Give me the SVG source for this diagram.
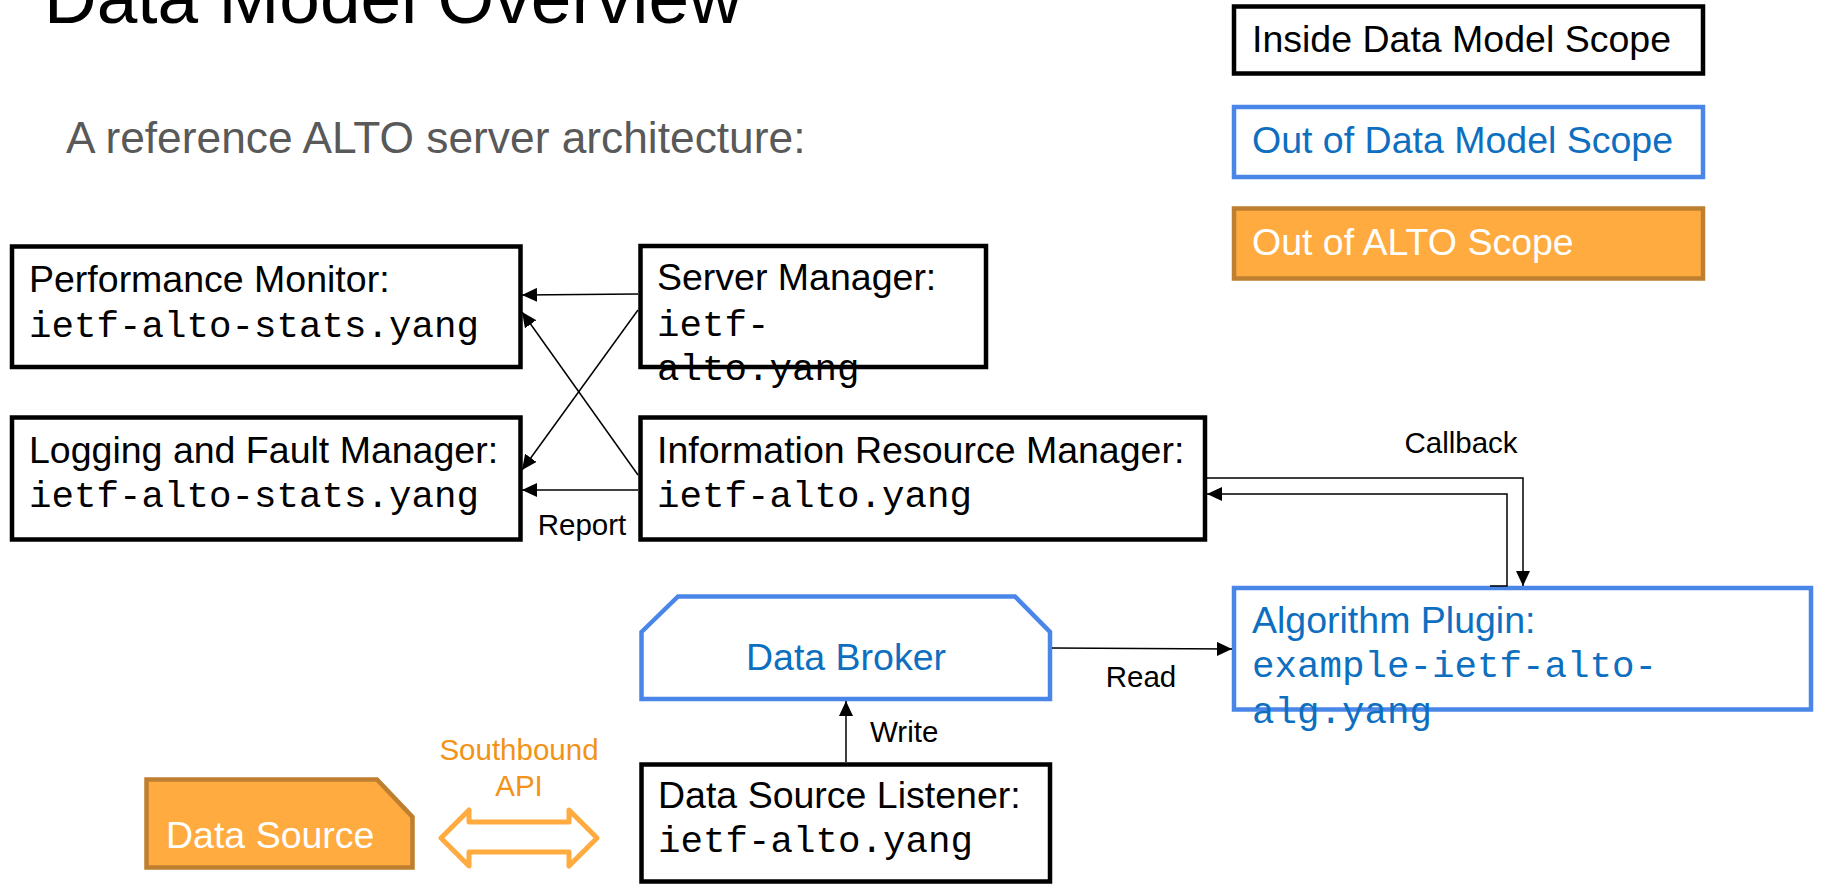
<svg xmlns="http://www.w3.org/2000/svg" width="1822" height="884" viewBox="0 0 1822 884">
<style>
.sans{font-family:"Liberation Sans",Arial,sans-serif}
.mono{font-family:"Liberation Mono","Courier New",monospace}
.main{font-size:37.5px;fill:#000}
.small{font-size:29.5px;fill:#000}
.blk{fill:#fff;stroke:#000;stroke-width:4.5}
.blu{fill:#fff;stroke:#4a86e8;stroke-width:4.5}
.org{fill:#ffab40;stroke:#bf7f30;stroke-width:4.5}
.btxt{fill:#0e6fc0}
.wtxt{fill:#fff}
.otxt{fill:#f29318}
.conn{fill:none;stroke:#000;stroke-width:1.5}
</style>
<defs>
<marker id="ah" markerUnits="userSpaceOnUse" markerWidth="15" markerHeight="14" refX="15" refY="7" orient="auto">
<path d="M0,0 L15,7 L0,14 z" fill="#000"/>
</marker>
</defs>
<rect width="1822" height="884" fill="#fff"/>
<text class="sans" x="44" y="23" font-size="73" fill="#000">Data Model Overview</text>
<text class="sans" x="66" y="153" font-size="44.3" fill="#595959">A reference ALTO server architecture:</text>

<g id="legend-inside">
<rect class="blk" x="1234" y="6.5" width="469" height="67"/>
<text class="sans main" x="1252" y="51.7">Inside Data Model Scope</text>
</g>
<g id="legend-out-dm">
<rect class="blu" x="1234" y="107" width="469" height="70"/>
<text class="sans main btxt" x="1252" y="153.3">Out of Data Model Scope</text>
</g>
<g id="legend-out-alto">
<rect class="org" x="1234" y="208.5" width="469" height="70"/>
<text class="sans main wtxt" x="1252" y="255">Out of ALTO Scope</text>
</g>

<g id="performance-monitor">
<rect class="blk" x="12" y="246.5" width="508.5" height="120.5"/>
<text class="sans main" x="29" y="291.7">Performance Monitor:</text>
<text class="mono main" x="29" y="336.7">ietf-alto-stats.yang</text>
</g>
<g id="logging-fault-manager">
<rect class="blk" x="12" y="417.5" width="508.5" height="122"/>
<text class="sans main" x="29" y="463">Logging and Fault Manager:</text>
<text class="mono main" x="29" y="507">ietf-alto-stats.yang</text>
</g>
<g id="server-manager">
<rect class="blk" x="640.5" y="246" width="345.5" height="121"/>
<text class="sans main" x="657" y="290">Server Manager:</text>
<text class="mono main" x="657" y="336">ietf-</text>
<text class="mono main" x="657" y="380">alto.yang</text>
</g>
<g id="information-resource-manager">
<rect class="blk" x="640.5" y="417.5" width="564.5" height="122"/>
<text class="sans main" x="657" y="463">Information Resource Manager:</text>
<text class="mono main" x="657" y="507">ietf-alto.yang</text>
</g>
<g id="data-broker">
<polygon class="blu" points="641.5,632 678,596.5 1015,596.5 1050,632 1050,699 641.5,699"/>
<text class="sans main btxt" x="846" y="670" text-anchor="middle">Data Broker</text>
</g>
<g id="algorithm-plugin">
<rect class="blu" x="1234" y="588" width="577" height="121.5"/>
<text class="sans main btxt" x="1252" y="633">Algorithm Plugin:</text>
<text class="mono main btxt" x="1252" y="677">example-ietf-alto-</text>
<text class="mono main btxt" x="1252" y="723">alg.yang</text>
</g>
<g id="data-source-listener">
<rect class="blk" x="641.5" y="764.5" width="408.5" height="117"/>
<text class="sans main" x="658" y="808">Data Source Listener:</text>
<text class="mono main" x="658" y="852">ietf-alto.yang</text>
</g>
<g id="data-source">
<polygon class="org" points="146.5,779.5 377,779.5 412.5,817 412.5,867.5 146.5,867.5"/>
<text class="sans main wtxt" x="166" y="848">Data Source</text>
</g>
<g id="southbound-api">
<polygon points="441,838 469,810 469,822 569,822 569,810 597,838 569,866 569,852 469,852 469,866" fill="#fff" stroke="#ffab40" stroke-width="5" stroke-linejoin="round"/>
<text class="sans small otxt" x="519" y="760" text-anchor="middle">Southbound</text>
<text class="sans small otxt" x="519" y="796" text-anchor="middle">API</text>
</g>

<g id="connectors">
<line class="conn" x1="638" y1="294" x2="522" y2="295" marker-end="url(#ah)"/>
<line class="conn" x1="638" y1="310" x2="522" y2="470" marker-end="url(#ah)"/>
<line class="conn" x1="638" y1="475" x2="522" y2="312" marker-end="url(#ah)"/>
<line class="conn" x1="638" y1="490" x2="522" y2="490" marker-end="url(#ah)"/>
<text class="sans small" x="582" y="535" text-anchor="middle">Report</text>
<polyline class="conn" points="1207,478 1523,478 1523,586" marker-end="url(#ah)"/>
<polyline class="conn" points="1490,586 1507,586 1507,494 1207,494" marker-end="url(#ah)"/>
<text class="sans small" x="1461" y="453" text-anchor="middle">Callback</text>
<line class="conn" x1="1052" y1="648" x2="1232" y2="649" marker-end="url(#ah)"/>
<text class="sans small" x="1141" y="687" text-anchor="middle">Read</text>
<line class="conn" x1="846" y1="762" x2="846" y2="701" marker-end="url(#ah)"/>
<text class="sans small" x="870" y="742">Write</text>
</g>
</svg>
